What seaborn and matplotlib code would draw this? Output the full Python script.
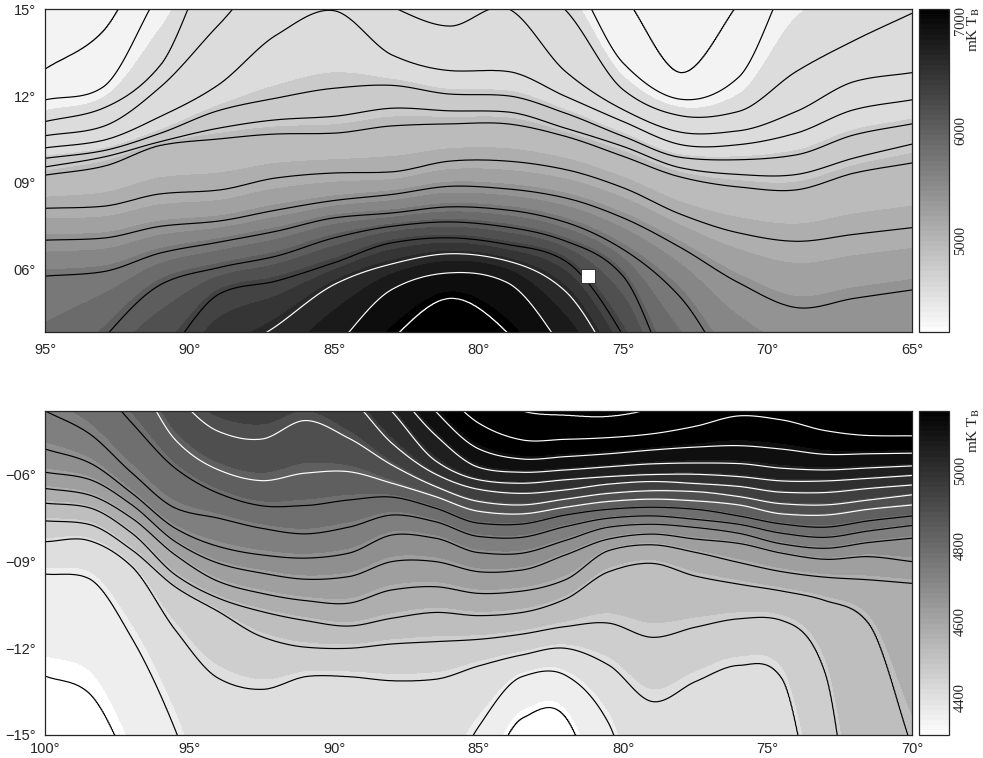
import numpy as np
import matplotlib
matplotlib.use("Agg")
import matplotlib.pyplot as plt
from matplotlib.cm import ScalarMappable
from matplotlib.colors import ListedColormap, Normalize
import seaborn as sns

# ---- upper map: latitude of each contour at each longitude column
top_lons = [95, 93, 91, 89, 87, 85, 83, 81, 79, 77, 75, 73, 71, 69, 67, 65]
top_levels = [4350, 4420, 4480, 4540, 4600, 4700, 4800, 4900, 5050, 5350, 5650, 5950, 6250, 6550, 6800, 7000]
top_c01 = [12.93, 14.23, 17.62, 19.34, 20.49, 20.49, 20.49, 19.92, 19.34, 17.62, 15.50, 12.81, 15.20, 18.19, 19.34, 20.49]
top_c02 = [11.87, 12.31, 15.66, 18.19, 19.34, 19.34, 18.77, 18.19, 17.62, 16.47, 13.14, 11.89, 12.65, 16.61, 18.19, 19.34]
top_c03 = [11.12, 11.58, 13.08, 17.04, 17.62, 17.62, 17.04, 16.47, 16.47, 14.98, 12.22, 11.32, 11.47, 12.85, 13.92, 14.86]
top_c04 = [10.63, 10.95, 12.33, 14.46, 16.47, 16.24, 15.09, 14.42, 15.03, 12.85, 11.53, 10.75, 10.80, 11.47, 12.50, 12.81]
top_c05 = [10.21, 10.47, 11.30, 12.39, 14.11, 14.95, 13.42, 12.88, 12.85, 11.99, 11.12, 10.32, 10.32, 10.72, 11.53, 11.87]
top_c06 = [9.85, 10.11, 10.72, 11.50, 11.93, 12.27, 12.37, 12.07, 12.01, 11.41, 10.61, 9.88, 9.80, 9.97, 10.66, 11.04]
top_c07 = [9.55, 9.89, 10.43, 10.89, 11.18, 11.30, 11.58, 11.49, 11.45, 10.89, 10.26, 9.52, 9.29, 9.29, 9.86, 10.34]
top_c08 = [9.27, 9.57, 10.30, 10.52, 10.69, 10.72, 10.97, 11.04, 11.04, 10.61, 9.92, 9.20, 8.86, 8.76, 9.34, 9.69]
top_c09 = [8.12, 8.19, 8.62, 8.75, 9.17, 9.34, 9.38, 9.75, 9.75, 9.46, 8.83, 7.91, 7.27, 6.98, 7.22, 7.45]
top_c10 = [7.02, 7.09, 7.50, 7.68, 8.06, 8.39, 8.60, 8.88, 8.79, 8.48, 7.79, 6.76, 5.55, 4.69, 5.01, 5.30]
top_c11 = [5.78, 5.93, 6.58, 6.95, 7.33, 7.79, 7.96, 8.17, 8.06, 7.64, 6.70, 5.03, 2.10, 0.38, -0.77, -1.92]
top_c12 = [0.95, 3.60, 5.49, 6.07, 6.47, 7.10, 7.50, 7.65, 7.47, 6.99, 5.78, 1.53, -0.77, -1.92, -3.07, -4.22]
top_c13 = [-1.35, 0.95, 2.79, 5.15, 5.61, 6.24, 6.93, 7.10, 6.87, 6.30, 3.71, -0.77, -3.07, -4.22, -5.37, -6.52]
top_c14 = [-3.07, -1.92, -0.20, 2.68, 4.06, 5.49, 6.20, 6.55, 6.30, 5.26, 2.10, -1.92, -4.22, -5.37, -6.52, -7.67]
top_c15 = [-5.37, -4.22, -3.07, -0.77, 0.95, 3.25, 5.32, 5.89, 5.55, 3.14, -0.20, -3.07, -5.37, -6.52, -7.67, -8.82]
top_c16 = [-7.67, -6.52, -5.37, -3.07, -0.77, 0.95, 3.60, 5.01, 3.83, 0.61, -3.07, -5.37, -7.67, -8.82, -9.97, -11.12]
top_bands = [4164, 4450, 4680, 4850, 5000, 5150, 5300, 5450, 5600, 5750, 5900, 6050, 6200, 6350, 6500, 6650, 6800, 6950, 7100]
top_white_from = 6550
source_lon = [76.23]
source_lat = [5.78]

# ---- lower map
low_lons = [100, 98.5, 97, 95.5, 94, 92.5, 91, 89.5, 88, 86.5, 85, 83.5, 82, 80.5, 79, 77.5, 76, 74.5, 73, 71.5, 70]
low_levels = [4350, 4400, 4450, 4500, 4550, 4600, 4650, 4700, 4750, 4800, 4850, 4900, 4950, 5000, 5050, 5100, 5150, 5200]
low_c01 = [-12.96, -13.53, -16.32, -20.36, -22.67, -23.82, -23.82, -23.82, -23.82, -20.36, -17.13, -14.42, -14.36, -18.05, -21.51, -22.67, -23.82, -24.97, -26.13, -27.28, -30.74]
low_c02 = [-9.43, -9.58, -11.65, -14.82, -19.21, -20.36, -20.36, -20.36, -19.21, -17.48, -14.71, -12.98, -12.93, -14.59, -19.21, -20.36, -21.51, -22.67, -23.82, -24.97, -28.43]
low_c03 = [-8.31, -8.27, -9.17, -11.36, -13.04, -13.42, -12.98, -12.98, -13.12, -13.07, -12.61, -12.23, -12.00, -12.58, -13.84, -13.15, -12.59, -13.04, -19.78, -23.82, -27.28]
low_c04 = [-7.59, -7.71, -8.60, -9.87, -10.73, -11.60, -11.96, -12.00, -11.85, -11.77, -11.69, -11.51, -11.25, -11.13, -11.62, -11.27, -10.98, -11.04, -12.86, -22.67, -26.13]
low_c05 = [-6.98, -7.13, -8.02, -9.46, -10.27, -10.73, -11.04, -11.23, -10.96, -10.76, -10.87, -10.76, -10.30, -9.35, -9.06, -9.50, -9.78, -10.02, -10.35, -11.13, -15.42]
low_c06 = [-6.47, -6.69, -7.50, -8.77, -9.69, -10.10, -10.35, -10.44, -9.98, -9.87, -10.10, -10.02, -9.63, -8.62, -8.42, -8.68, -9.03, -9.35, -9.54, -9.63, -9.75]
low_c07 = [-5.91, -6.15, -7.04, -8.31, -9.06, -9.40, -9.61, -9.52, -9.00, -9.00, -9.35, -9.29, -8.77, -8.22, -8.05, -8.22, -8.37, -8.71, -8.92, -8.83, -9.00]
low_c08 = [-5.11, -5.57, -6.64, -7.85, -8.48, -8.77, -8.88, -8.71, -8.08, -8.19, -8.69, -8.71, -8.27, -7.81, -7.71, -7.82, -8.02, -8.39, -8.54, -8.34, -8.19]
low_c09 = [-3.79, -4.56, -5.94, -7.15, -7.50, -7.85, -8.04, -7.81, -7.39, -7.62, -8.13, -8.16, -7.79, -7.50, -7.42, -7.54, -7.71, -8.02, -8.16, -7.94, -7.75]
low_c10 = [-1.33, -2.52, -4.21, -5.77, -6.64, -7.07, -7.06, -6.87, -6.77, -7.15, -7.67, -7.70, -7.39, -7.19, -7.12, -7.19, -7.42, -7.70, -7.81, -7.59, -7.42]
low_c11 = [0.40, -0.75, -2.37, -4.79, -5.83, -6.20, -5.94, -5.89, -6.29, -6.75, -7.26, -7.35, -7.12, -6.92, -6.84, -6.90, -7.04, -7.35, -7.39, -7.19, -7.04]
low_c12 = [1.55, 0.40, -0.75, -3.18, -4.50, -4.76, -4.12, -4.73, -5.66, -6.40, -6.92, -7.04, -6.84, -6.64, -6.55, -6.58, -6.75, -7.00, -7.04, -6.87, -6.69]
low_c13 = [2.71, 1.55, 0.40, -1.33, -1.91, -2.14, -2.37, -3.28, -4.91, -5.97, -6.50, -6.64, -6.52, -6.32, -6.23, -6.30, -6.40, -6.60, -6.61, -6.47, -6.35]
low_c14 = [3.86, 2.71, 1.55, -0.18, -0.75, -1.10, -1.45, -2.25, -3.81, -5.51, -6.17, -6.29, -6.17, -6.06, -5.99, -5.98, -6.06, -6.21, -6.21, -6.12, -6.02]
low_c15 = [5.01, 3.86, 2.71, 0.98, 0.40, -0.06, -0.52, -1.33, -2.94, -4.62, -5.74, -5.91, -5.83, -5.72, -5.62, -5.59, -5.61, -5.77, -5.83, -5.76, -5.69]
low_c16 = [6.17, 5.01, 3.86, 2.13, 1.55, 0.98, 0.40, -0.41, -1.91, -3.79, -5.10, -5.45, -5.37, -5.27, -5.14, -5.04, -4.99, -5.11, -5.29, -5.27, -5.25]
low_c17 = [7.32, 6.17, 5.01, 3.28, 2.71, 2.01, 1.32, 0.52, -0.98, -2.77, -4.21, -4.79, -4.77, -4.71, -4.58, -4.32, -3.96, -4.10, -4.47, -4.64, -4.65]
low_c18 = [8.47, 7.32, 6.17, 4.44, 3.86, 3.05, 2.25, 1.44, -0.06, -1.68, -2.71, -3.79, -3.94, -3.98, -3.69, -2.83, -2.37, -2.48, -2.71, -2.83, -2.94]
low_bands = [4300, 4360, 4410, 4460, 4510, 4560, 4610, 4660, 4710, 4760, 4810, 4860, 4910, 4960, 5010, 5060, 5110, 5160]
low_white_from = 4850

top_lines = [top_c01, top_c02, top_c03, top_c04, top_c05, top_c06, top_c07, top_c08,
             top_c09, top_c10, top_c11, top_c12, top_c13, top_c14, top_c15, top_c16]
low_lines = [low_c01, low_c02, low_c03, low_c04, low_c05, low_c06, low_c07, low_c08, low_c09,
             low_c10, low_c11, low_c12, low_c13, low_c14, low_c15, low_c16, low_c17, low_c18]


def curve_through(lons, lats, fine_lons):
    # cubic through the read points, keeps contours round between columns
    x = np.array(lons, dtype=float)
    y = np.array(lats, dtype=float)
    s = np.diff(y) / np.diff(x)
    m = np.gradient(y, x)
    # damp the slope where the contour turns sharply, stops it overshooting
    same = s[:-1] * s[1:] > 0
    harm = 2 * s[:-1][same] * s[1:][same] / (s[:-1][same] + s[1:][same])
    m[1:-1][same] = 0.5 * (m[1:-1][same] + harm)
    i = np.clip(np.searchsorted(-x, -fine_lons, side="right") - 1, 0, len(x) - 2)
    h = x[i + 1] - x[i]
    t = (fine_lons - x[i]) / h
    return ((2 * t**3 - 3 * t**2 + 1) * y[i] + (t**3 - 2 * t**2 + t) * h * m[i]
            + (-2 * t**3 + 3 * t**2) * y[i + 1] + (t**3 - t**2) * h * m[i + 1])


def build_field(lons, lines, levels, fine_lons, lat_grid, south_val, north_val):
    # every column runs monotonically through the contour levels
    curves = [curve_through(lons, row, fine_lons) for row in lines]
    field = np.zeros((len(lat_grid), len(fine_lons)))
    for j in range(len(fine_lons)):
        pts = sorted(zip([c[j] for c in curves], levels))
        xp = [-90] + [p[0] for p in pts] + [90]
        fp = [south_val] + [p[1] for p in pts] + [north_val]
        field[:, j] = np.interp(lat_grid, xp, fp)
    return field


def draw_map(fig, box, lons, lat_grid, field, levels, bands, white_from, shade_min, xlim, ylim, xticks, yticks, ylabels, xpad):
    ax = fig.add_axes(box)
    mids = [(a + b) / 2 for a, b in zip(bands[:-1], bands[1:])]
    cmap = sns.color_palette("gray_r", as_cmap=True)
    ax.contourf(lons, lat_grid, field, levels=bands, cmap=cmap, vmin=shade_min, vmax=mids[-1], extend="both")
    colors = ["white" if v >= white_from else "black" for v in levels]
    ax.contour(lons, lat_grid, field, levels=levels, colors=colors, linewidths=0.85, linestyles="solid")
    ax.set_xlim(xlim)
    ax.set_ylim(ylim)
    ax.set_xticks(xticks)
    ax.set_xticklabels([f"{v}\u00b0" for v in xticks])
    ax.set_xticks(np.arange(min(xlim), max(xlim) + 1), minor=True)
    ax.set_yticks(yticks)
    ax.set_yticklabels(ylabels)
    ax.set_yticks(np.arange(np.ceil(min(ylim)), np.floor(max(ylim)) + 1), minor=True)
    ax.tick_params(which="major", direction="in", length=6, width=0.7, top=True, right=True, labelsize=10.5)
    ax.tick_params(which="minor", direction="in", length=3, width=0.7, top=True, right=True)
    ax.tick_params(axis="x", which="major", pad=xpad)
    ax.tick_params(axis="y", which="major", pad=7)
    for s in ax.spines.values():
        s.set_linewidth(0.9)
    return ax


def draw_bar(fig, box, vmin, vmax, major, minor):
    cax = fig.add_axes(box)
    sm = ScalarMappable(norm=Normalize(vmin, vmax), cmap=ListedColormap(sns.color_palette("gray_r", 64)))
    cb = fig.colorbar(sm, cax=cax)
    cb.set_ticks(major)
    cb.set_ticklabels([str(v) for v in major])
    cax.set_yticks(minor, minor=True)
    cax.tick_params(which="both", direction="in", left=True, right=True, length=4, width=0.7, pad=4)
    for lab in cax.get_yticklabels():
        lab.set_rotation(90)
        lab.set_va("center")
        lab.set_family("Liberation Serif")
        lab.set_fontsize(10.5)
    cb.outline.set_linewidth(0.9)
    return cax


sns.set_style("ticks")
plt.rcParams["font.family"] = ["Liberation Sans", "DejaVu Sans"]
plt.rcParams["mathtext.fontset"] = "stix"

W, H = 983, 758
fig = plt.figure(figsize=(W / 100, H / 100), dpi=100)

# upper panel
fine_top = np.arange(95, 64.98, -0.04)
grid_top = np.arange(3, 16, 0.01)
top_field = build_field(top_lons, top_lines, top_levels, fine_top, grid_top, 7400, 4100)
ax1 = draw_map(fig, [45.3 / W, 1 - 332 / H, 866.7 / W, 322.7 / H], fine_top, grid_top, top_field, top_levels,
               top_bands, top_white_from, 4164, (95, 65), (3.845, 15), [95, 90, 85, 80, 75, 70, 65], [6, 9, 12, 15],
               ["06\u00b0", "09\u00b0", "12\u00b0", "15\u00b0"], 8)
ax1.scatter(source_lon, source_lat, marker="s", s=90, c="white", edgecolors="#222222", linewidths=0.6, zorder=6)
draw_bar(fig, [919 / W, 1 - 332 / H, 29.5 / W, 322.7 / H], 4164, 7100, [5000, 6000, 7000], list(range(4400, 7001, 200)))
fig.text(974 / W, 1 - 30 / H, "mK T$_{\\mathrm{B}}$", rotation=90, ha="center", va="center",
         family="Liberation Serif", fontsize=11)

# lower panel
fine_low = np.arange(100, 69.98, -0.04)
grid_low = np.arange(-16, -3, 0.01)
low_field = build_field(low_lons, low_lines, low_levels, fine_low, grid_low, 4200, 5300)
draw_map(fig, [45.3 / W, 1 - 735 / H, 866.7 / W, 324 / H], fine_low, grid_low, low_field, low_levels,
         low_bands, low_white_from, 4330, (100, 70), (-15, -3.79), [100, 95, 90, 85, 80, 75, 70], [-6, -9, -12, -15],
         ["\u221206\u00b0", "\u221209\u00b0", "\u221212\u00b0", "\u221215\u00b0"], 5)
draw_bar(fig, [919 / W, 1 - 735 / H, 29.5 / W, 324 / H], 4301, 5156, [4400, 4600, 4800, 5000], list(range(4400, 5101, 100)))
fig.text(974 / W, 1 - 431 / H, "mK T$_{\\mathrm{B}}$", rotation=90, ha="center", va="center",
         family="Liberation Serif", fontsize=11)

fig.savefig("out.png", dpi=100)
